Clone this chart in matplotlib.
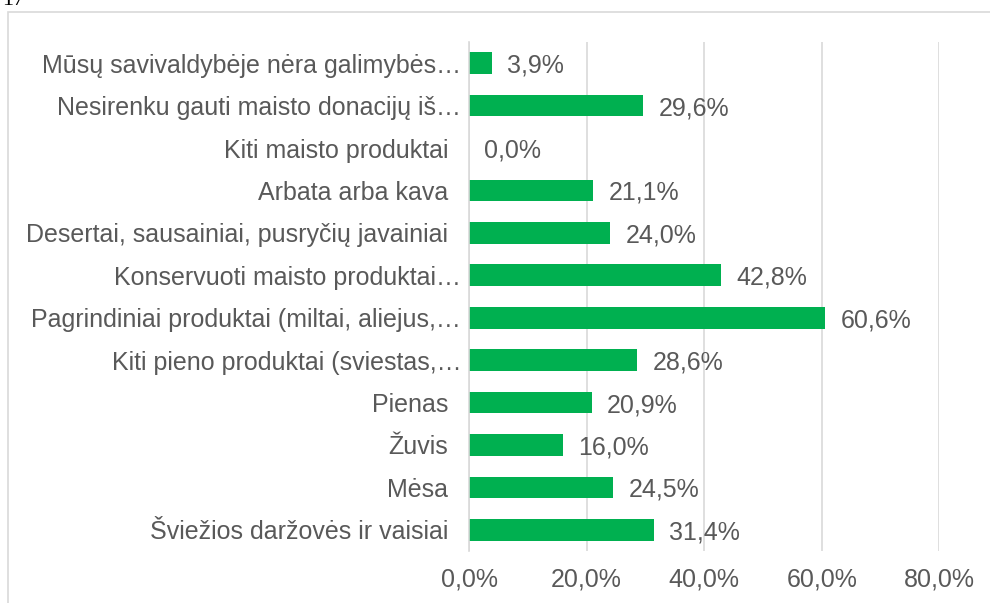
import matplotlib
matplotlib.use("Agg")
import matplotlib.pyplot as plt
from matplotlib.patches import Rectangle
from matplotlib.transforms import ScaledTranslation

categories = [
    "Mūsų savivaldybėje nėra galimybės…",
    "Nesirenku gauti maisto donacijų iš…",
    "Kiti maisto produktai",
    "Arbata arba kava",
    "Desertai, sausainiai, pusryčių javainiai",
    "Konservuoti maisto produktai…",
    "Pagrindiniai produktai (miltai, aliejus,…",
    "Kiti pieno produktai (sviestas,…",
    "Pienas",
    "Žuvis",
    "Mėsa",
    "Šviežios daržovės ir vaisiai",
]
values = [3.9, 29.6, 0.0, 21.1, 24.0, 42.8, 60.6, 28.6, 20.9, 16.0, 24.5, 31.4]
xticks = [0, 20, 40, 60, 80]
xtick_labels = ["0,0%", "20,0%", "40,0%", "60,0%", "80,0%"]

W, H = 990, 603
plt.rcParams['font.family'] = ['Liberation Sans', 'DejaVu Sans']
fig = plt.figure(figsize=(W / 100, H / 100), dpi=100)

TEXT = "#595959"
GRID = "#D9D9D9"
GREEN = "#00B050"
FS = 18

# outer chart border (partially cut off by the page)
fig.patches.append(Rectangle((8 / W, -0.2), 2.0, 1 - 12 / H + 0.2,
                             transform=fig.transFigure, fill=False,
                             edgecolor=GRID, linewidth=1.2))
# page number fragment at the top-left
fig.text(2 / W, 1 - 5 / H, "17", family=['Liberation Serif', 'DejaVu Serif'],
         fontsize=16, color="black", va="baseline", ha="left")

left, right = 469, 939.3
top, bottom = 42, 551
ax = fig.add_axes([left / W, 1 - bottom / H, (right - left) / W, (bottom - top) / H])

y = list(range(len(categories)))
ax.barh(y, values, height=0.51, color=GREEN, zorder=3)
ax.set_ylim(len(categories) - 0.5, -0.5)
ax.set_xlim(0, 80)
ax.set_yticks(y)
ax.set_yticklabels(categories)
ax.set_xticks(xticks)
ax.set_xticklabels(xtick_labels)
ax.tick_params(axis='both', length=0, labelsize=FS, colors=TEXT)
ax.tick_params(axis='y', pad=15)
ax.tick_params(axis='x', pad=12)
for lab in ax.get_yticklabels():
    if lab.get_text().endswith("…"):
        lab.set_transform(lab.get_transform() + ScaledTranslation(0.13, 0, fig.dpi_scale_trans))
for s in ["top", "right", "bottom"]:
    ax.spines[s].set_visible(False)
ax.spines["left"].set_color(GRID)
ax.spines["left"].set_linewidth(1.2)
ax.spines["left"].set_zorder(4)
ax.xaxis.grid(True, color=GRID, linewidth=1.2, zorder=0)
ax.set_axisbelow(True)

for yi, v in zip(y, values):
    ax.annotate(f"{v:.1f}".replace(".", ",") + "%", xy=(v, yi), xytext=(11, 0),
                textcoords="offset points", ha="left", va="center_baseline",
                fontsize=FS, color=TEXT)

fig.savefig("out.png", dpi=100)
